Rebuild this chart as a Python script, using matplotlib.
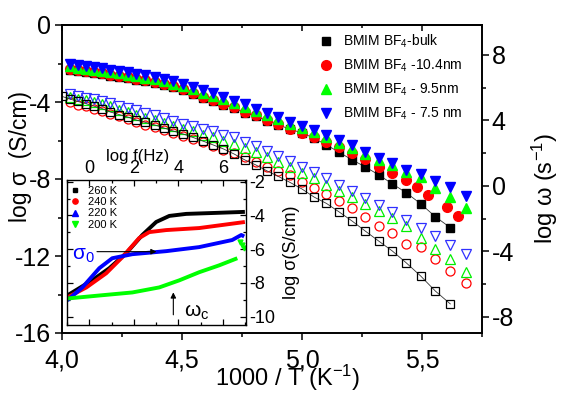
import matplotlib
matplotlib.use('Agg')
import matplotlib.pyplot as plt
import numpy as np
from matplotlib.ticker import MultipleLocator, FuncFormatter
from matplotlib.lines import Line2D
from matplotlib import font_manager

plt.rcParams['font.family'] = ['Liberation Sans', 'DejaVu Sans']
plt.rcParams['mathtext.fontset'] = 'custom'
plt.rcParams['mathtext.rm'] = 'Liberation Sans'
plt.rcParams['mathtext.it'] = 'Liberation Sans'
plt.rcParams['mathtext.default'] = 'regular'
plt.rcParams['axes.unicode_minus'] = False

_names = {f.name for f in font_manager.fontManager.ttflist}
HAS_NARROW = 'Liberation Sans Narrow' in _names

# ---------------- data (main panel) ----------------
# temperatures (K); x axis is 1000/T
T_bulk_open = [250, 248, 246, 244, 242, 240, 238, 236, 234, 232, 230, 228, 226, 224, 222, 220,
               218, 216, 214, 212, 210, 208, 206, 204, 202, 200, 198, 196, 194, 192, 190, 188,
               186, 184, 182, 180, 178]
T_conf = [248, 246, 244, 242, 240, 238, 236, 234, 232, 230, 228, 226, 224, 222, 220,
          218, 216, 214, 212, 210, 208, 206, 204, 202, 200, 198, 196, 194, 192, 190, 188,
          186, 184, 182, 180, 178, 176]
T_bulk_filled = [248, 246, 244, 242, 240, 238, 236, 234, 232, 230, 228, 226, 224, 222, 220,
                 218, 216, 214, 212, 210, 208, 206, 204, 202, 200, 198, 196, 194, 192, 190, 188,
                 186, 184, 182, 180, 178]
T_104_filled = [248, 246, 244, 242, 240, 238, 236, 234, 232, 230, 228, 226, 224, 222, 220,
                218, 216, 214, 212, 210, 208, 206, 204, 202, 200, 198, 196, 194, 192, 190, 188,
                186, 184, 182.5, 181, 178.5, 177]

# log sigma (S/cm), open symbols, left axis
sig_bulk = [-3.71, -3.84, -3.97, -4.08, -4.21, -4.34, -4.52, -4.65, -4.78, -4.94, -5.06, -5.19,
            -5.35, -5.51, -5.66, -5.84, -6.03, -6.23, -6.44, -6.70, -7.01, -7.27, -7.58, -7.87,
            -8.18, -8.52, -8.94, -9.27, -9.71, -10.18, -10.70, -11.22, -11.74, -12.36, -13.04,
            -13.82, -14.49]
sig_104 = [-4.00, -4.13, -4.23, -4.34, -4.47, -4.62, -4.75, -4.88, -5.04, -5.17, -5.30, -5.45,
           -5.61, -5.77, -5.92, -6.10, -6.29, -6.47, -6.65, -6.88, -7.12, -7.38, -7.56, -7.77,
           -8.16, -8.47, -8.78, -9.14, -9.53, -9.95, -10.42, -10.83, -11.38, -11.53, -12.16,
           -12.78, -13.40]
sig_95 = [-3.74, -3.84, -3.92, -4.00, -4.10, -4.21, -4.40, -4.52, -4.68, -4.83, -4.96, -5.09,
          -5.25, -5.38, -5.51, -5.71, -5.84, -6.00, -6.16, -6.39, -6.60, -6.86, -7.12, -7.40,
          -7.69, -7.97, -8.29, -8.60, -8.94, -9.30, -9.66, -10.03, -10.44, -11.06, -11.64,
          -12.16, -12.83]
sig_75 = [-3.58, -3.69, -3.77, -3.84, -3.95, -4.05, -4.21, -4.31, -4.44, -4.57, -4.70, -4.83,
          -4.99, -5.12, -5.25, -5.40, -5.53, -5.69, -5.84, -6.08, -6.29, -6.55, -6.81, -7.09,
          -7.38, -7.66, -7.97, -8.29, -8.62, -8.99, -9.35, -9.71, -10.13, -10.55, -10.96,
          -11.43, -11.90]

# log omega (s^-1), filled symbols, right axis
om_bulk = [7.09, 6.99, 6.93, 6.87, 6.81, 6.72, 6.66, 6.57, 6.47, 6.38, 6.29, 6.17, 6.02, 5.83,
           5.62, 5.38, 5.16, 4.95, 4.73, 4.46, 4.25, 3.97, 3.73, 3.45, 3.24, 2.90, 2.50, 2.05,
           1.59, 1.16, 0.67, 0.12, -0.43, -1.10, -1.89, -2.56]
om_104 = [7.15, 7.05, 6.99, 6.93, 6.87, 6.78, 6.72, 6.63, 6.53, 6.44, 6.35, 6.23, 6.08, 5.89,
          5.68, 5.44, 5.22, 5.01, 4.79, 4.52, 4.31, 4.03, 3.79, 3.48, 3.24, 2.99, 2.69, 2.35,
          2.02, 1.65, 1.16, 0.79, 0.34, -0.06, -0.55, -1.28, -1.83]
om_95 = [7.30, 7.21, 7.15, 7.09, 7.03, 6.93, 6.87, 6.78, 6.69, 6.60, 6.51, 6.38, 6.23, 6.08,
         5.90, 5.68, 5.50, 5.29, 5.04, 4.83, 4.55, 4.31, 4.06, 3.76, 3.51, 3.27, 2.98, 2.62,
         2.32, 1.93, 1.56, 1.25, 0.83, 0.55, -0.12, -0.67, -1.34]
om_75 = [7.45, 7.36, 7.30, 7.24, 7.18, 7.08, 7.02, 6.93, 6.84, 6.75, 6.66, 6.53, 6.38, 6.23,
         6.05, 5.83, 5.65, 5.44, 5.19, 4.98, 4.70, 4.46, 4.21, 3.91, 3.66, 3.42, 3.12, 2.78,
         2.47, 2.08, 1.71, 1.40, 0.98, 0.70, 0.31, -0.06, -0.61]

labels_main = ['BMIM BF$_4$-bulk', 'BMIM BF$_4$ -10.4nm', 'BMIM BF$_4$ - 9.5nm',
               'BMIM BF$_4$ - 7.5 nm']

# ---------------- data (inset) ----------------
lf_260 = [-0.99, 0.13, 0.90, 1.66, 2.38, 3.00, 3.59, 4.35, 5.70, 6.98]
ls_260 = [-8.75, -7.85, -7.13, -6.24, -5.16, -4.39, -4.03, -3.91, -3.85, -3.79]
lf_240 = [-0.99, -0.13, 0.76, 1.48, 2.24, 2.69, 3.45, 4.93, 6.98]
ls_240 = [-8.87, -8.27, -7.43, -6.48, -5.34, -4.99, -4.87, -4.75, -4.39]
lf_220 = [-0.99, -0.31, 0.45, 1.03, 1.93, 3.45, 4.93, 6.41, 6.82, 6.95]
ls_220 = [-9.04, -8.27, -7.13, -6.54, -6.30, -6.12, -5.88, -5.46, -5.16, -5.25]
lf_200 = [-0.99, 0.45, 1.93, 3.14, 4.04, 4.93, 5.83, 6.64]
ls_200 = [-8.93, -8.75, -8.57, -8.27, -7.85, -7.37, -6.96, -6.54]
lf_200_hf = [6.75, 6.85, 6.95]
ls_200_hf = [-5.55, -5.75, -5.95]
labels_inset = ['260 K', '240 K', '220 K', '200 K']

# ---------------- figure ----------------
fig = plt.figure(figsize=(5.62, 3.94), dpi=100)
ax = fig.add_axes([62/562, 61/394, 420/562, 308/394])
ax.set_xlim(4.0, 5.75)
ax.set_ylim(-16, 0)
ax2 = ax.twinx()
ax2.set_ylim(-9.0, 9.83)

x_bo = 1000/np.array(T_bulk_open)
x_c = 1000/np.array(T_conf)
x_bf = 1000/np.array(T_bulk_filled)
x_rf = 1000/np.array(T_104_filled)

mew = 0.9
ax.plot(x_c, sig_104, ls='none', marker='o', ms=6.5, mfc='none', mec='#ff0000', mew=mew)
ax.plot(x_c, sig_95, ls='none', marker='^', ms=7, mfc='none', mec='#00ee00', mew=mew)
ax.plot(x_c, sig_75, ls='none', marker='v', ms=7, mfc='none', mec='#3030ff', mew=mew)
ax.plot(x_bo, sig_bulk, color='#333333', lw=0.6, marker='s', ms=5.5, mfc='none',
        mec='black', mew=mew)

ax2.plot(x_bf, om_bulk, color='#333333', lw=0.6, marker='s', ms=5.5, mfc='black', mec='black')
ax2.plot(x_rf, om_104, ls='none', marker='o', ms=7, mfc='#ff0000', mec='#ff0000')
ax2.plot(x_c, om_95, ls='none', marker='^', ms=7.5, mfc='#00ff00', mec='#00ff00')
ax2.plot(x_c, om_75, ls='none', marker='v', ms=7.5, mfc='#0000ff', mec='#0000ff')

hl = [Line2D([], [], ls='none', marker='s', ms=5.5, mfc='black', mec='black'),
      Line2D([], [], ls='none', marker='o', ms=7, mfc='#ff0000', mec='#ff0000'),
      Line2D([], [], ls='none', marker='^', ms=7.5, mfc='#00ff00', mec='#00ff00'),
      Line2D([], [], ls='none', marker='v', ms=7.5, mfc='#0000ff', mec='#0000ff')]
if HAS_NARROW:
    leg_prop = {'family': ['Liberation Sans Narrow', 'Liberation Sans'], 'size': 11.5}
else:
    leg_prop = {'family': ['Liberation Sans', 'DejaVu Sans'], 'size': 10}
ax2.legend(hl, labels_main, loc='upper left', bbox_to_anchor=(0.612, 0.975), frameon=False,
           prop=leg_prop, borderpad=0, borderaxespad=0, handlelength=1.0,
           handletextpad=0.75, labelspacing=0.55)

# ticks main
fmt = FuncFormatter(lambda v, p: ('%.1f' % v).replace('.', ','))
ax.xaxis.set_major_locator(MultipleLocator(0.5))
ax.xaxis.set_minor_locator(MultipleLocator(0.25))
ax.xaxis.set_major_formatter(fmt)
ax.yaxis.set_major_locator(MultipleLocator(4))
ax.yaxis.set_minor_locator(MultipleLocator(2))
ax2.yaxis.set_major_locator(MultipleLocator(4))
ax2.yaxis.set_minor_locator(MultipleLocator(2))
ax.tick_params(axis='both', which='major', direction='out', length=5, width=1.1,
               labelsize=18, pad=3)
ax.tick_params(axis='both', which='minor', direction='out', length=3, width=1.1)
ax.tick_params(axis='x', which='major', pad=6)
ax2.tick_params(axis='y', which='major', direction='out', length=5, width=1.1,
                labelsize=18, pad=2)
ax2.tick_params(axis='y', which='minor', direction='out', length=3, width=1.1)
sec = ax.secondary_xaxis('top')
sec.xaxis.set_major_locator(MultipleLocator(0.5))
sec.xaxis.set_minor_locator(MultipleLocator(0.25))
sec.tick_params(axis='x', which='major', direction='in', length=4, width=1.1, labeltop=False)
sec.tick_params(axis='x', which='minor', direction='in', length=2.5, width=1.1)
for a in (ax, ax2):
    for s in a.spines.values():
        s.set_linewidth(1.2)
sec.spines['top'].set_linewidth(1.2)

fig.text(288/562, (394-378)/394, '1000 / T (K$^{-1}$)', fontsize=17, ha='center', va='center')
fig.text(20/562, (394-156)/394, 'log σ  (S/cm)', fontsize=16.5, rotation=90,
         ha='center', va='center')
fig.text(545/562, (394-188)/394, 'log ω (s$^{-1}$)', fontsize=17, rotation=90,
         ha='center', va='center')

# ---------------- inset ----------------
ax_in = fig.add_axes([67/562, 69/394, 179/562, 145/394])
ax_in.set_zorder(10)
ax_in.set_facecolor('white')
ax_in.set_xlim(-1.0, 7.03)
ax_in.set_ylim(-10.5, -1.9)
ax_in.plot(lf_260, ls_260, color='black', lw=2.8, solid_capstyle='butt')
ax_in.plot(lf_240, ls_240, color='#ff0000', lw=2.8, solid_capstyle='butt')
ax_in.plot(lf_220, ls_220, color='#0000ff', lw=2.8, solid_capstyle='butt')
ax_in.plot(lf_200, ls_200, color='#00ff00', lw=2.8, solid_capstyle='butt')
ax_in.plot(lf_200_hf, ls_200_hf, ls='none', marker='v', ms=3.5, color='#00ff00')

hin = [Line2D([], [], ls='none', marker='s', ms=3.5, color='black'),
       Line2D([], [], ls='none', marker='o', ms=3.8, color='#ff0000'),
       Line2D([], [], ls='none', marker='^', ms=4, color='#0000ff'),
       Line2D([], [], ls='none', marker='v', ms=4, color='#00ff00')]
ax_in.legend(hin, labels_inset, loc='upper left', bbox_to_anchor=(0.02, 0.96), frameon=False,
             fontsize=8, borderpad=0, borderaxespad=0, handlelength=0.8, handletextpad=0.76,
             labelspacing=0.12)

ax_in.xaxis.set_major_locator(MultipleLocator(2))
ax_in.xaxis.set_minor_locator(MultipleLocator(1))
ax_in.yaxis.set_major_locator(MultipleLocator(2))
ax_in.yaxis.set_minor_locator(MultipleLocator(1))
ax_in.xaxis.set_ticks_position('both')
ax_in.yaxis.set_ticks_position('both')
ax_in.tick_params(axis='x', which='both', direction='in', labeltop=True, labelbottom=False,
                  labelsize=13, pad=2)
ax_in.tick_params(axis='y', which='both', direction='in', labelright=True, labelleft=False,
                  labelsize=13, pad=2)
ax_in.tick_params(which='major', length=4, width=0.9)
ax_in.tick_params(which='minor', length=2, width=0.9)
for s in ax_in.spines.values():
    s.set_linewidth(1.0)
ax_in.yaxis.set_label_position('right')
ax_in.set_ylabel('log σ(S/cm)', fontsize=13, labelpad=6)
ax_in.text(0.397, 1.16, 'log f(Hz)', transform=ax_in.transAxes, ha='center', va='center',
           fontsize=12)

ax_in.annotate('', xy=(3.14, -6.15), xytext=(0.22, -6.15),
               arrowprops=dict(arrowstyle='-|>', color='black', lw=0.8, mutation_scale=8))
ax_in.annotate('', xy=(3.77, -8.4), xytext=(3.77, -10.06),
               arrowprops=dict(arrowstyle='-|>', color='black', lw=0.8, mutation_scale=8))
ax_in.text(-0.78, -6.35, r'$\sigma_0$', color='#0000ff', fontsize=15, ha='left', va='center')
ax_in.text(4.25, -9.75, r'$\omega_c$', color='black', fontsize=15, ha='left', va='center')

fig.savefig('out.png', dpi=100)
